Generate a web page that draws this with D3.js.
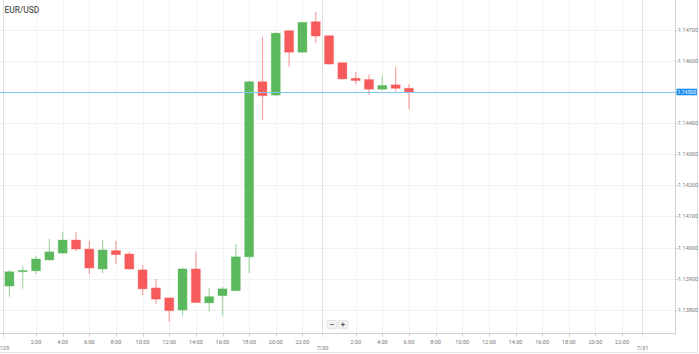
<!DOCTYPE html>
<html>
<head>
<meta charset="utf-8">
<script src="https://cdn.jsdelivr.net/npm/d3@7"></script>
<style>
  body { margin: 0; background: #fff; }
  text { font-family: Roboto, "Open Sans", sans-serif; }
</style>
</head>
<body>
<script>

// hourly candles, EUR/USD
var candleTimes = ["2018-07-29 00:00","2018-07-29 01:00","2018-07-29 02:00","2018-07-29 03:00",
                   "2018-07-29 04:00","2018-07-29 05:00","2018-07-29 06:00","2018-07-29 07:00",
                   "2018-07-29 08:00","2018-07-29 09:00","2018-07-29 10:00","2018-07-29 11:00",
                   "2018-07-29 12:00","2018-07-29 13:00","2018-07-29 14:00","2018-07-29 15:00",
                   "2018-07-29 16:00","2018-07-29 17:00","2018-07-29 18:00","2018-07-29 19:00",
                   "2018-07-29 20:00","2018-07-29 21:00","2018-07-29 22:00","2018-07-29 23:00",
                   "2018-07-30 00:00","2018-07-30 01:00","2018-07-30 02:00","2018-07-30 03:00",
                   "2018-07-30 04:00","2018-07-30 05:00","2018-07-30 06:00"];

var opens  = [1.13876,1.13922,1.13925,1.13960,1.13982,1.14024,1.13995,1.13931,1.13990,1.13979,1.13928,
              1.13870,1.13838,1.13799,1.13931,1.13822,1.13845,1.13861,1.13970,1.14533,1.14490,
              1.14697,1.14628,1.14726,1.14681,1.14594,1.14544,1.14540,1.14509,1.14523,1.14512];
var highs  = [1.13928,1.13941,1.13973,1.14027,1.14051,1.14050,1.14021,1.14024,1.14021,1.13986,1.13944,
              1.13899,1.13838,1.13935,1.13986,1.13870,1.13874,1.14011,1.14536,1.14678,1.14691,
              1.14697,1.14725,1.14758,1.14682,1.14595,1.14564,1.14557,1.14553,1.14580,1.14526];
var lows   = [1.13842,1.13867,1.13915,1.13958,1.13980,1.13989,1.13915,1.13918,1.13947,1.13929,1.13847,
              1.13818,1.13761,1.13781,1.13823,1.13794,1.13781,1.13861,1.13918,1.14410,1.14487,
              1.14581,1.14627,1.14657,1.14588,1.14540,1.14526,1.14490,1.14506,1.14502,1.14445];
var closes = [1.13922,1.13926,1.13963,1.13986,1.14024,1.13995,1.13934,1.13992,1.13977,1.13931,1.13867,
              1.13834,1.13797,1.13931,1.13823,1.13842,1.13867,1.13970,1.14533,1.14488,1.14689,
              1.14628,1.14724,1.14680,1.14590,1.14542,1.14537,1.14509,1.14521,1.14512,1.14500];

var priceTicks = [1.138,1.139,1.140,1.141,1.142,1.143,1.144,1.145,1.146,1.147];
var hourTicks = ["2018-07-29 02:00","2018-07-29 04:00","2018-07-29 06:00","2018-07-29 08:00",
                 "2018-07-29 10:00","2018-07-29 12:00","2018-07-29 14:00","2018-07-29 16:00",
                 "2018-07-29 18:00","2018-07-29 20:00","2018-07-29 22:00",
                 "2018-07-30 02:00","2018-07-30 04:00","2018-07-30 06:00","2018-07-30 08:00",
                 "2018-07-30 10:00","2018-07-30 12:00","2018-07-30 14:00","2018-07-30 16:00",
                 "2018-07-30 18:00","2018-07-30 20:00","2018-07-30 22:00"];
var dayTicks = ["2018-07-29 00:00","2018-07-30 00:00","2018-07-31 00:00"];
var dayLabels = ["7/29","7/30","7/31"];
var symbol = "EUR/USD";

var width = 699, height = 354,
    plotRight = 675.5,
    axisY = 333.5,
    green = "#5cb85c",
    red = "#f65a5a";

var parse = d3.timeParse("%Y-%m-%d %H:%M");

var x = d3.scaleTime()
          .domain([parse("2018-07-29 00:00"), parse("2018-07-31 00:00")])
          .range([9.4, 648.7]);
var y = d3.scaleLinear()
          .domain([1.138, 1.147])
          .range([309.7, 29.8]);

var candles = candleTimes.map(function (t, i) {
  return {"t": parse(t), "o": opens[i], "h": highs[i], "l": lows[i], "c": closes[i]};
});

var svg = d3.select("body").append("svg")
            .attr("width", width)
            .attr("height", height);

// outer frame
svg.append("line").attr("x1", 0).attr("x2", 697.5).attr("y1", 352.5).attr("y2", 352.5)
   .attr("stroke", "#e4e4e4");
svg.append("line").attr("x1", 697.5).attr("x2", 697.5).attr("y1", 0).attr("y2", 352.5)
   .attr("stroke", "#e4e4e4");

var plot = svg.append("g");
plot.append("clipPath").attr("id", "clip")
    .append("rect").attr("x", 0).attr("y", 0).attr("width", plotRight).attr("height", axisY);

// grid
plot.selectAll(".hgrid").data(priceTicks).enter().append("line")
    .attr("x1", 0).attr("x2", plotRight)
    .attr("y1", function (d) { return Math.round(y(d)) + 0.5; })
    .attr("y2", function (d) { return Math.round(y(d)) + 0.5; })
    .attr("stroke", "#f2f2f2");

plot.selectAll(".vgrid").data(hourTicks).enter().append("line")
    .attr("x1", function (d) { return Math.round(x(parse(d))) + 0.5; })
    .attr("x2", function (d) { return Math.round(x(parse(d))) + 0.5; })
    .attr("y1", 0).attr("y2", axisY)
    .attr("stroke", "#f2f2f2");

// day separators sit half an hour before midnight
var dayX = function (d) { return Math.round(x(d3.timeMinute.offset(parse(d), -30))) + 0.5; };

plot.selectAll(".dgrid").data(dayTicks).enter().append("line")
    .attr("x1", dayX).attr("x2", dayX)
    .attr("y1", 0).attr("y2", axisY + 4)
    .attr("stroke", "#e2e2e2");

// candles
var cg = plot.append("g").attr("clip-path", "url(#clip)");
var bw = 9;

cg.selectAll(".wick").data(candles).enter().append("line")
  .attr("x1", function (d) { return x(d.t); })
  .attr("x2", function (d) { return x(d.t); })
  .attr("y1", function (d) { return y(d.h); })
  .attr("y2", function (d) { return y(d.l); })
  .attr("stroke", function (d) { return d.c >= d.o ? green : red; })
  .attr("stroke-opacity", 0.55)
  .attr("stroke-width", 1.2);

cg.selectAll(".body").data(candles).enter().append("rect")
  .attr("x", function (d) { return x(d.t) - bw / 2; })
  .attr("width", bw)
  .attr("y", function (d) { return y(Math.max(d.o, d.c)); })
  .attr("height", function (d) { return Math.max(1.2, Math.abs(y(d.o) - y(d.c))); })
  .attr("fill", function (d) { return d.c >= d.o ? green : red; })
  .attr("stroke", function (d) { return d.c >= d.o ? green : red; })
  .attr("stroke-opacity", 0.35)
  .attr("stroke-width", 1);

// axes lines
svg.append("line").attr("x1", 0).attr("x2", plotRight).attr("y1", axisY).attr("y2", axisY)
   .attr("stroke", "#cfcfcf");
svg.append("line").attr("x1", plotRight).attr("x2", plotRight).attr("y1", 0).attr("y2", axisY)
   .attr("stroke", "#cfcfcf");

// bottom ticks + labels
svg.selectAll(".xtick").data(hourTicks).enter().append("line")
   .attr("x1", function (d) { return Math.round(x(parse(d))) + 0.5; })
   .attr("x2", function (d) { return Math.round(x(parse(d))) + 0.5; })
   .attr("y1", axisY).attr("y2", axisY + 3)
   .attr("stroke", "#cfcfcf");

svg.selectAll(".xlabel").data(hourTicks).enter().append("text")
   .attr("x", function (d) { return x(parse(d)); })
   .attr("y", 343.6)
   .attr("text-anchor", "middle")
   .style("font-size", "5.6px")
   .style("fill", "#777")
   .text(function (d) { return d3.timeFormat("%-H:%M")(parse(d)); });

svg.selectAll(".daylabel").data(dayTicks).enter().append("text")
   .attr("x", dayX)
   .attr("y", 349.8)
   .attr("text-anchor", "middle")
   .style("font-size", "5.6px")
   .style("fill", "#777")
   .text(function (d, i) { return dayLabels[i]; });

// right axis
var lastClose = closes[closes.length - 1];

svg.selectAll(".ytick").data(priceTicks).enter().append("line")
   .attr("x1", plotRight).attr("x2", plotRight + 3)
   .attr("y1", function (d) { return Math.round(y(d)) + 0.5; })
   .attr("y2", function (d) { return Math.round(y(d)) + 0.5; })
   .attr("stroke", "#cfcfcf");

svg.selectAll(".ylabel").data(priceTicks.filter(function (d) { return Math.abs(d - lastClose) > 0.0003; }))
   .enter().append("text")
   .attr("x", 678)
   .attr("y", function (d) { return y(d) + 2; })
   .style("font-size", "5.5px")
   .style("fill", "#777")
   .text(function (d) { return d3.format(".5f")(d); });

// current price line and tag
svg.append("line")
   .attr("x1", 0).attr("x2", plotRight)
   .attr("y1", Math.round(y(lastClose)) + 0.5).attr("y2", Math.round(y(lastClose)) + 0.5)
   .attr("stroke", "#7ec8f3");
svg.append("rect")
   .attr("x", 676.5).attr("y", y(lastClose) - 3.3)
   .attr("width", 20.5).attr("height", 6.6)
   .attr("fill", "#1e8ff0");
svg.append("text")
   .attr("x", 677.6).attr("y", y(lastClose) + 2)
   .attr("textLength", 18.4)
   .attr("lengthAdjust", "spacingAndGlyphs")
   .style("font-size", "5.4px")
   .style("fill", "#fff")
   .text(d3.format(".5f")(lastClose));

// title
svg.append("text").attr("x", 4.5).attr("y", 12.6)
   .style("font-size", "8.4px")
   .style("font-weight", 500)
   .style("fill", "#5a5a5a")
   .text(symbol);

// zoom buttons
var btns = svg.selectAll(".btn").data(["\u2212", "+"]).enter().append("g")
              .attr("transform", function (d, i) { return "translate(" + (327 + i * 11) + ",320.5)"; });
btns.append("rect").attr("width", 10).attr("height", 8).attr("rx", 1)
    .attr("fill", "#f3f3f3").attr("stroke", "#dddddd").attr("stroke-width", 0.7);
btns.append("text").attr("x", 5).attr("y", 6.6).attr("text-anchor", "middle")
    .style("font-size", "8px").style("font-weight", 700).style("fill", "#555")
    .text(function (d) { return d; });

</script>
</body>
</html>
